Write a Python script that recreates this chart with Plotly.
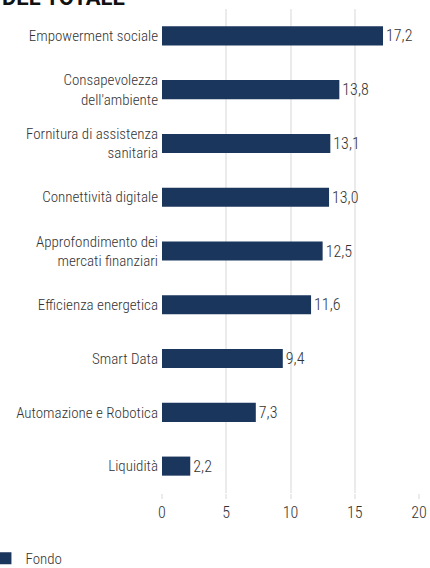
import plotly.graph_objects as go

categories = [
    "Empowerment sociale",
    "Consapevolezza<br>dell'ambiente",
    "Fornitura di assistenza<br>sanitaria",
    "Connettività digitale",
    "Approfondimento dei<br>mercati finanziari",
    "Efficienza energetica",
    "Smart Data",
    "Automazione e Robotica",
    "Liquidità",
]
values = [17.2, 13.8, 13.1, 13.0, 12.5, 11.6, 9.4, 7.3, 2.2]
series_name = "Fondo"
x_ticks = [0, 5, 10, 15, 20]
title_text = "DEL TOTALE"

FONT = "Roboto Condensed, Roboto, sans-serif"
TXT = "#333333"
NAVY = "#1b365d"
GRID = "#ebebeb"

fig = go.Figure()
fig.add_trace(go.Bar(
    y=categories, x=values, orientation="h", name=series_name,
    marker=dict(color=NAVY, line=dict(width=0)),
    texttemplate="%{x:.1f}", textposition="outside",
    textfont=dict(family=FONT, size=16, color=TXT, weight=300),
    cliponaxis=False,
))

fig.update_layout(
    width=430, height=568,
    margin=dict(l=162, r=11, t=9, b=75, autoexpand=False),
    paper_bgcolor="white", plot_bgcolor="white",
    separators=",.",
    bargap=0.645,
    font=dict(family=FONT, size=15, color=TXT, weight=300),
    showlegend=True,
    legend=dict(orientation="h", x=-0.687, xanchor="left", y=-0.101, yanchor="top",
                font=dict(family=FONT, size=15, color=TXT, weight=300), itemwidth=30),
    xaxis=dict(range=[0, 20], tickvals=x_ticks, showgrid=True, gridcolor=GRID, gridwidth=2,
               zeroline=False, showline=False, ticks="outside", ticklen=5, tickcolor=GRID,
               tickwidth=2, automargin=False,
               tickfont=dict(family=FONT, size=16, color=TXT, weight=300)),
    yaxis=dict(autorange="reversed", showgrid=False, zeroline=False, showline=False,
               ticks="", ticklabelstandoff=3, automargin=False,
               tickfont=dict(family=FONT, size=15, color=TXT, weight=300)),
    annotations=[dict(text="<b>" + title_text + "</b>", xref="paper", yref="paper",
                      x=-0.63, xanchor="left", y=0.993, yanchor="bottom", showarrow=False,
                      font=dict(family="Roboto, Liberation Sans, sans-serif", size=22,
                                color="#111111"))],
)

fig.write_html("out.html", config={"displayModeBar": False},
               post_script="document.body.style.margin='0';")
